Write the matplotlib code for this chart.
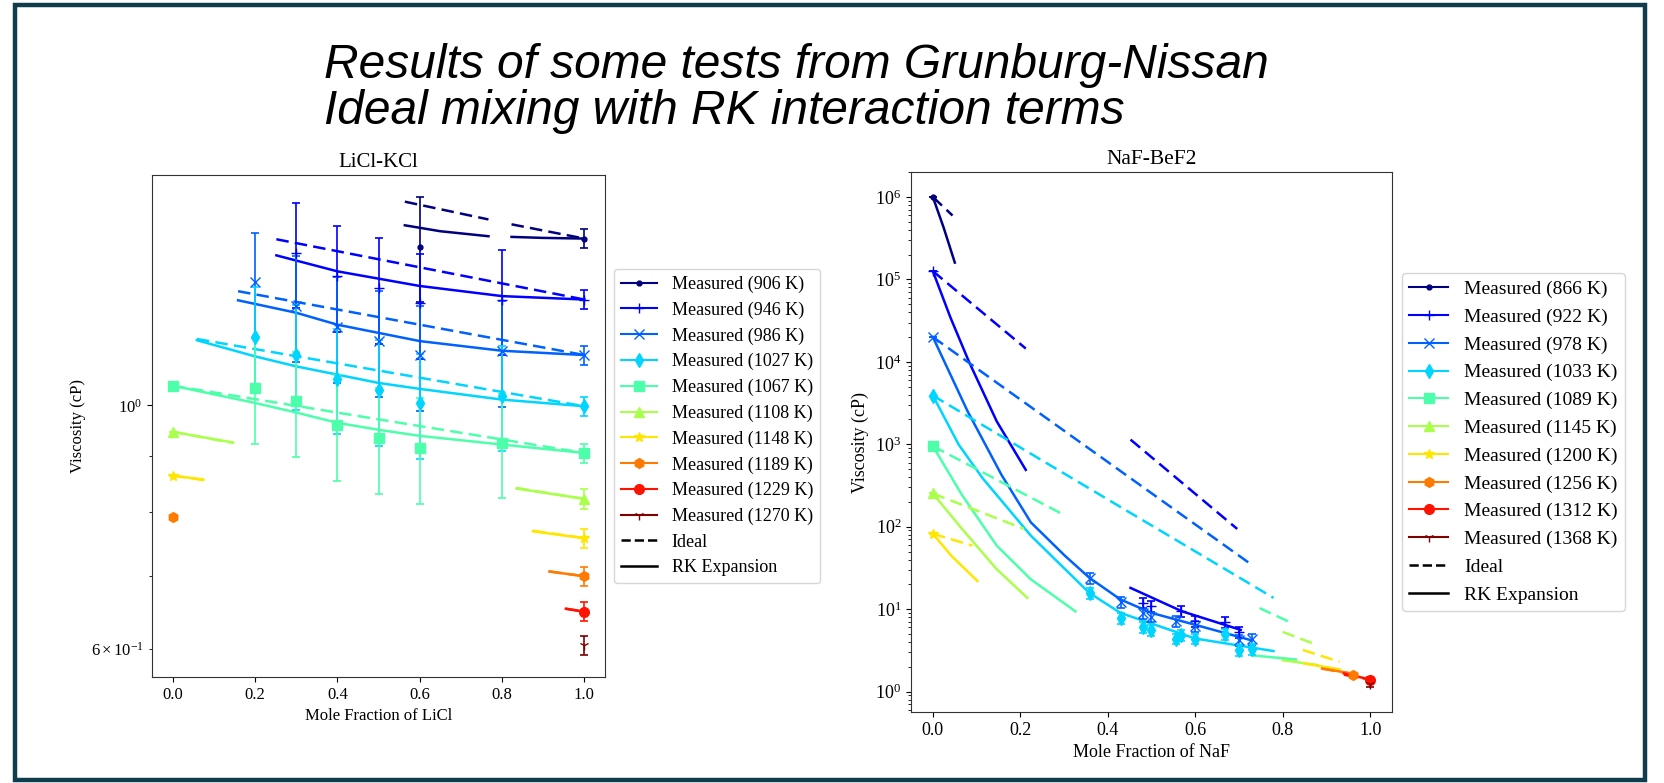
import numpy as np
import matplotlib
matplotlib.use('Agg')
import matplotlib.pyplot as plt
from matplotlib.lines import Line2D
from matplotlib.patches import Rectangle

plt.rcParams['font.family'] = ['Liberation Serif', 'DejaVu Serif']
plt.rcParams['mathtext.fontset'] = 'stix'
plt.rcParams['font.size'] = 12

nan = np.nan

# ---------------- LiCl-KCl ----------------
temps_L = [906, 946, 986, 1027, 1067, 1108, 1148, 1189, 1229, 1270]

meas_x_L = [
    [0.6, 1.0],
    [0.3, 0.4, 0.5, 0.6, 0.8, 1.0],
    [0.2, 0.3, 0.4, 0.5, 0.6, 0.8, 1.0],
    [0.2, 0.3, 0.4, 0.5, 0.6, 0.8, 1.0],
    [0.0, 0.2, 0.3, 0.4, 0.5, 0.6, 0.8, 1.0],
    [0.0, 1.0],
    [0.0, 1.0],
    [0.0, 1.0],
    [1.0],
    [1.0],
]
meas_y_L = [
    [1.394, 1.418],
    [1.377, 1.311, 1.279, 1.238, 1.248, 1.248],
    [1.294, 1.231, 1.178, 1.144, 1.110, 1.120, 1.111],
    [1.154, 1.112, 1.057, 1.032, 1.004, 1.020, 0.998],
    [1.042, 1.037, 1.008, 0.960, 0.934, 0.915, 0.925, 0.905],
    [0.946, 0.822],
    [0.863, 0.757],
    [0.792, 0.699],
    [0.649],
    [0.605],
]
meas_e_L = [
    [0.153, 0.028],
    [0.151, 0.144, 0.141, 0.136, 0.137, 0.025],
    [0.142, 0.135, 0.130, 0.126, 0.122, 0.123, 0.022],
    [0.127, 0.122, 0.116, 0.114, 0.110, 0.112, 0.020],
    [0.0, 0.114, 0.111, 0.106, 0.103, 0.101, 0.102, 0.018],
    [0.0, 0.017],
    [0.0, 0.015],
    [0.0, 0.014],
    [0.013],
    [0.012],
]

ideal_x_L = [
    [0.564, 0.767, nan, 0.823, 1.0],
    [0.252, 1.0],
    [0.159, 1.0],
    [0.059, 1.0],
    [0.0, 1.0],
    [0.0, 0.147, nan, 0.835, 1.0],
    [0.0, 0.075, nan, 0.875, 1.0],
    [0.915, 1.0],
    [0.955, 1.0],
    [],
]
ideal_y_L = [
    [1.532, 1.476, nan, 1.461, 1.418],
    [1.416, 1.248],
    [1.270, 1.111],
    [1.149, 0.998],
    [1.042, 0.905],
    [0.946, 0.924, nan, 0.841, 0.822],
    [0.863, 0.855, nan, 0.769, 0.757],
    [0.706, 0.699],
    [0.653, 0.649],
    [],
]
rk_x_L = [
    [0.564, 0.65, 0.767, nan, 0.823, 0.9, 1.0],
    [0.252, 0.4, 0.6, 0.8, 1.0],
    [0.159, 0.3, 0.4, 0.6, 0.8, 1.0],
    [0.059, 0.2, 0.3, 0.5, 0.6, 0.8, 1.0],
    [0.0, 0.2, 0.3, 0.4, 0.5, 0.6, 0.8, 1.0],
    [0.0, 0.147, nan, 0.835, 1.0],
    [0.0, 0.075, nan, 0.875, 1.0],
    [0.915, 1.0],
    [0.955, 1.0],
    [],
]
rk_y_L = [
    [1.458, 1.440, 1.425, nan, 1.423, 1.420, 1.418],
    [1.369, 1.324, 1.284, 1.257, 1.248],
    [1.246, 1.214, 1.184, 1.144, 1.121, 1.111],
    [1.146, 1.108, 1.085, 1.048, 1.035, 1.012, 0.998],
    [1.042, 1.005, 0.985, 0.964, 0.950, 0.938, 0.921, 0.905],
    [0.946, 0.925, nan, 0.840, 0.822],
    [0.863, 0.856, nan, 0.768, 0.757],
    [0.706, 0.699],
    [0.653, 0.649],
    [],
]

# ---------------- NaF-BeF2 ----------------
temps_R = [866, 922, 978, 1033, 1089, 1145, 1200, 1256, 1312, 1368]

meas_x_R = [
    [0.0],
    [0.0, 0.48, 0.50, 0.567, 0.60, 0.667, 0.70],
    [0.0, 0.36, 0.43, 0.48, 0.50, 0.557, 0.60, 0.70, 0.73],
    [0.0, 0.36, 0.43, 0.48, 0.50, 0.557, 0.567, 0.60, 0.667, 0.70, 0.73],
    [0.0],
    [0.0],
    [0.0],
    [0.96],
    [1.0],
    [1.0],
]
meas_y_R = [
    [1.0e6],
    [1.26e5, 12.0, 11.0, 9.4, 7.2, 7.0, 5.3],
    [2.0e4, 24.0, 12.2, 9.0, 8.1, 7.1, 6.3, 4.2, 4.3],
    [3.9e3, 15.7, 7.8, 6.1, 5.6, 4.4, 4.85, 4.4, 5.0, 3.2, 3.3],
    [950.0],
    [253.0],
    [82.0],
    [1.6],
    [1.4],
    [1.25],
]
meas_e_R = [
    [0.0],
    [0.0, 1.8, 1.65, 1.4, 1.1, 1.05, 0.8],
    [0.0, 3.6, 1.8, 1.35, 1.2, 1.05, 0.95, 0.63, 0.65],
    [0.0, 2.4, 1.2, 0.9, 0.85, 0.65, 0.73, 0.65, 0.75, 0.48, 0.5],
    [0.0],
    [0.0],
    [0.0],
    [0.05],
    [0.1],
    [0.1],
]

ideal_x_R = [
    [0.0, 0.045],
    [0.0, 0.2125, nan, 0.452, 0.696],
    [0.0, 0.7276],
    [0.0, 0.779],
    [0.0, 0.302, nan, 0.747, 0.823],
    [0.0, 0.2085, nan, 0.80, 0.877],
    [0.0, 0.0905, nan, 0.846, 0.93],
    [0.89, 0.97],
    [0.94, 1.0],
    [],
]
ideal_y_R = [
    [1.0e6, 5.96e5],
    [1.26e5, 1.45e4, nan, 1140.0, 94.0],
    [2.0e4, 35.0],
    [3.9e3, 13.7],
    [950.0, 137.0, nan, 10.3, 6.7],
    [253.0, 94.0, nan, 5.3, 3.7],
    [82.0, 59.0, nan, 3.2, 2.3],
    [1.9, 1.6],
    [1.6, 1.4],
    [],
]
rk_x_R = [
    [0.0, 0.025, 0.0502],
    [0.0, 0.04, 0.0827, 0.146, 0.2125, nan, 0.452, 0.57, 0.704],
    [0.0, 0.079, 0.157, 0.224, 0.302, 0.358, 0.429, 0.5, 0.6, 0.7276],
    [0.0, 0.059, 0.114, 0.224, 0.358, 0.429, 0.6, 0.779],
    [0.0, 0.0667, 0.146, 0.224, 0.326, nan, 0.73, 0.83],
    [0.0, 0.0667, 0.146, 0.216, nan, 0.80, 0.88],
    [0.0, 0.043, 0.102, nan, 0.85, 0.93],
    [0.89, 0.97],
    [0.94, 1.0],
    [],
]
rk_y_R = [
    [1.0e6, 4.2e5, 1.6e5],
    [1.26e5, 3.47e4, 1.0e4, 1.9e3, 489.0, nan, 18.1, 9.4, 5.6],
    [2.0e4, 2.54e3, 425.0, 113.0, 44.4, 24.0, 13.1, 9.0, 6.45, 4.2],
    [3.9e3, 991.0, 386.0, 78.0, 15.7, 9.0, 4.4, 3.1],
    [950.0, 242.0, 59.0, 23.0, 9.4, nan, 2.75, 2.45],
    [253.0, 94.0, 30.5, 13.7, nan, 2.4, 2.1],
    [82.0, 44.0, 21.9, nan, 2.19, 1.86],
    [1.9, 1.62],
    [1.66, 1.4],
    [],
]

markers = ['.', '+', 'x', 'd', 's', '^', '*', 'h', 'o', '1']
colors = plt.cm.jet(np.linspace(0, 1, 10))

W, H = 1665, 783
fig = plt.figure(figsize=(W / 100, H / 100), dpi=100)
fig.patches.append(Rectangle((15 / W, 1 - 780 / H), 1630 / W, 775 / H,
                             transform=fig.transFigure, fill=False,
                             edgecolor='#0f3d4c', linewidth=3.2, zorder=10))

fig.text(324 / W, 1 - 78 / H, 'Results of some tests from Grunburg-Nissan',
         family=['Liberation Sans', 'DejaVu Sans'], style='italic', fontsize=34.5,
         va='baseline', ha='left')
fig.text(324 / W, 1 - 124 / H, 'Ideal mixing with RK interaction terms',
         family=['Liberation Sans', 'DejaVu Sans'], style='italic', fontsize=34.5,
         va='baseline', ha='left')


def panel(rect, title, xlabel, temps, mx, my, me, ix, iy, rx, ry, ylim,
          fs_title, fs_lab, fs_leg, leg_sp):
    ax = fig.add_axes(rect)
    for i in range(10):
        c = colors[i]
        if len(ix[i]):
            ax.plot(ix[i], iy[i], ls='--', color=c, lw=1.8, dashes=(5, 2.5))
        if len(rx[i]):
            ax.plot(rx[i], ry[i], ls='-', color=c, lw=1.8)
        ax.errorbar(mx[i], my[i], yerr=me[i], fmt=markers[i], color=c, ms=7,
                    capsize=3, elinewidth=1.2, capthick=1.2, ls='none', zorder=3)
    ax.set_yscale('log')
    ax.set_xlim(-0.05, 1.05)
    ax.set_ylim(*ylim)
    ax.set_title(title, fontsize=fs_title)
    ax.set_xlabel(xlabel, fontsize=fs_lab)
    ax.set_ylabel('Viscosity (cP)', fontsize=fs_lab)
    ax.tick_params(which='both', labelsize=fs_lab)
    for s in ax.spines.values():
        s.set_color('#333333')
    handles = [Line2D([], [], color=colors[i], marker=markers[i], ms=7, lw=1.5,
                      label='Measured (%d K)' % temps[i]) for i in range(10)]
    handles.append(Line2D([], [], color='black', ls='--', lw=1.8, label='Ideal'))
    handles.append(Line2D([], [], color='black', ls='-', lw=1.8, label='RK Expansion'))
    ax.legend(handles=handles, loc='center left', bbox_to_anchor=(1.0, 0.5),
              fontsize=fs_leg, labelspacing=leg_sp)
    return ax


panel([152 / W, 1 - 677 / H, 453 / W, 502 / H], 'LiCl-KCl', 'Mole Fraction of LiCl',
      temps_L, meas_x_L, meas_y_L, meas_e_L, ideal_x_L, ideal_y_L, rk_x_L, rk_y_L,
      (0.566, 1.62), 15, 12, 13, 0.47)
panel([911 / W, 1 - 712 / H, 481 / W, 540 / H], 'NaF-BeF2', 'Mole Fraction of NaF',
      temps_R, meas_x_R, meas_y_R, meas_e_R, ideal_x_R, ideal_y_R, rk_x_R, rk_y_R,
      (0.565, 2.01e6), 15.5, 13, 14, 0.52)

fig.savefig('out.png', dpi=100)
